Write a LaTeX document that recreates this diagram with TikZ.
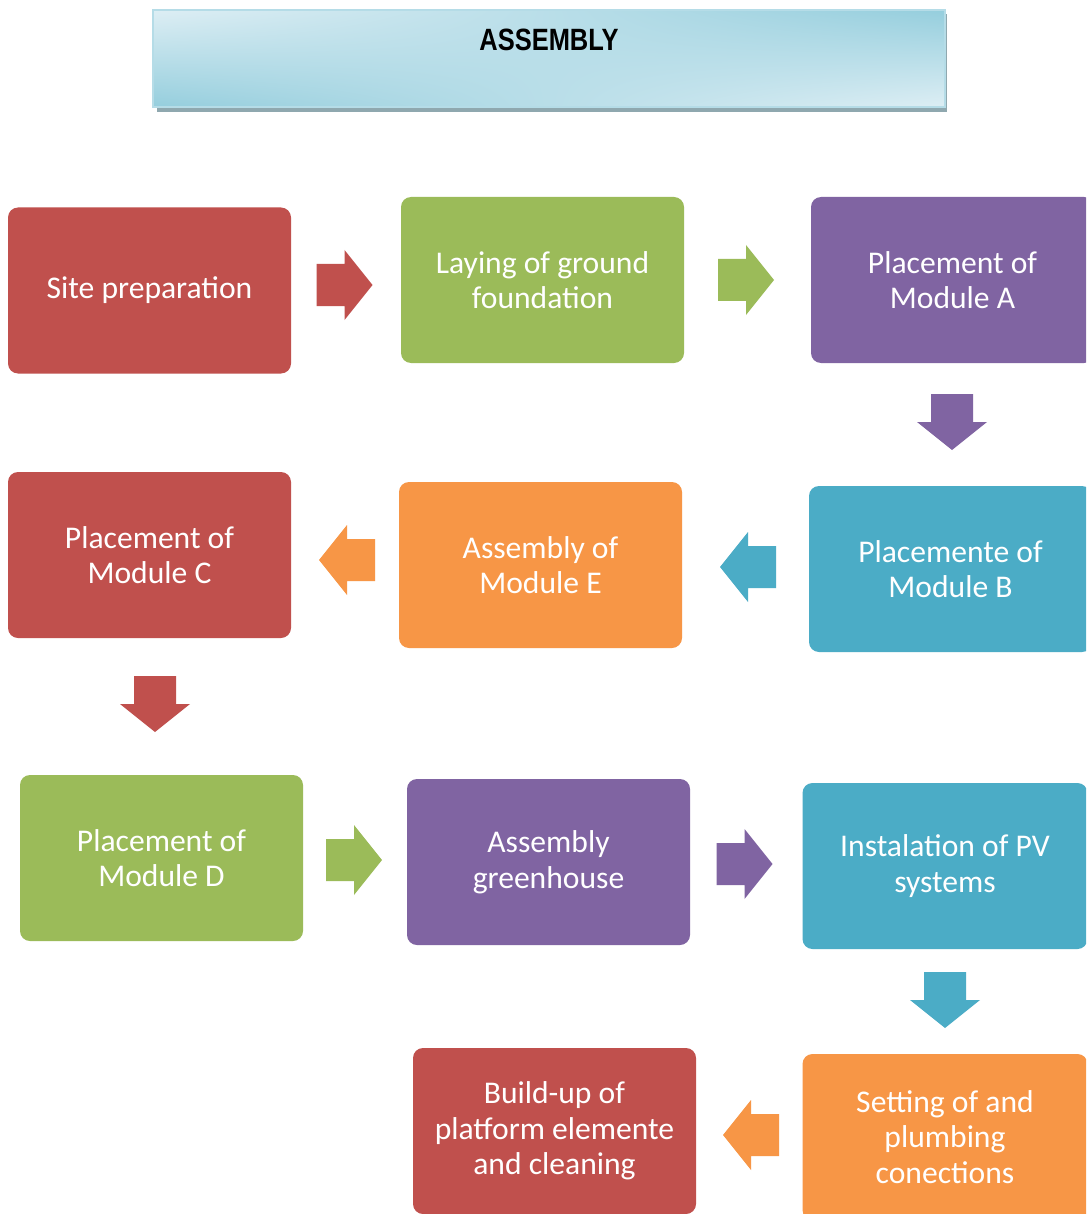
\documentclass[tikz,border=0pt]{standalone}
\usepackage{fontspec}
\usetikzlibrary{shadings}
\setmainfont{Carlito}
\newfontfamily\titlefont{Liberation Sans}
\definecolor{cred}{HTML}{C0504D}
\definecolor{cgreen}{HTML}{9BBB59}
\definecolor{cpurple}{HTML}{8064A2}
\definecolor{cblue}{HTML}{4BACC6}
\definecolor{corange}{HTML}{F79646}
\definecolor{tlight}{HTML}{DDEEF4}
\definecolor{tdark}{HTML}{95CEDD}
\definecolor{tshadow}{HTML}{8FA8AF}
\definecolor{tborder}{HTML}{B5DCE7}
\tikzset{
  stepbox/.style={rectangle, rounded corners=10pt, minimum width=283pt, minimum height=166pt,
    text=white, align=center, font=\fontsize{31.6}{35.5}\selectfont, inner sep=0pt},
  blk/.pic={\fill[#1] (-28,-21) -- (0,-21) -- (0,-35) -- (28,0) -- (0,35) -- (0,21) -- (-28,21) -- cycle;},
}
\begin{document}
\begin{tikzpicture}[x=1pt,y=-1pt]
\clip (0,0) rectangle (1086,1214);
\fill[white] (0,0) rectangle (1086,1214);
% title
\fill[tshadow] (157,14) rectangle (947,112);
\path[upper left=tlight, upper right=tdark, lower left=tdark, lower right=tlight] (153,10) rectangle (945,107);
\draw[tborder, line width=1.5pt] (153,10) rectangle (945,107);
\node[font=\titlefont\bfseries\fontsize{28}{32}\selectfont, xscale=0.91, yscale=1.1, inner sep=0pt] (title) at (549,40) {ASSEMBLY};
% boxes
\node[stepbox, fill=cred]    (sp) at (149.5,290.5) {Site preparation};
\node[stepbox, fill=cgreen]  (lf) at (542.5,280) {Laying of ground\\foundation};
\node[stepbox, fill=cpurple] (ma) at (952.5,280) {Placement of\\Module A};
\node[stepbox, fill=cred]    (mc) at (149.5,555) {Placement of\\Module C};
\node[stepbox, fill=corange] (me) at (540.5,565) {Assembly of\\Module E};
\node[stepbox, fill=cblue]   (mb) at (950.5,569) {Placemente of\\Module B};
\node[stepbox, fill=cgreen]  (md) at (161.5,858) {Placement of\\Module D};
\node[stepbox, fill=cpurple] (ag) at (548.5,862) {Assembly\\greenhouse};
\node[stepbox, fill=cblue, minimum width=285pt] (pv) at (945,866) {Instalation of PV\\systems};
\node[stepbox, fill=cred]    (bu) at (554.5,1131) {Build-up of\\platform elemente\\and cleaning};
\node[stepbox, fill=corange, minimum width=285pt] (sc) at (945,1137) {Setting of and\\plumbing\\conections};
% block arrows
\pic at (344.5,285) {blk=cred};
\pic at (746,280) {blk=cgreen};
\pic[rotate=-90] at (952,422) {blk=cpurple};
\pic[rotate=180] at (347,560) {blk=corange};
\pic[rotate=180] at (748,567) {blk=cblue};
\pic[rotate=-90] at (155,704) {blk=cred};
\pic at (354,860) {blk=cgreen};
\pic at (744.5,864) {blk=cpurple};
\pic[rotate=-90] at (945,1000) {blk=cblue};
\pic[rotate=180] at (751,1135) {blk=corange};
\end{tikzpicture}
\end{document}
